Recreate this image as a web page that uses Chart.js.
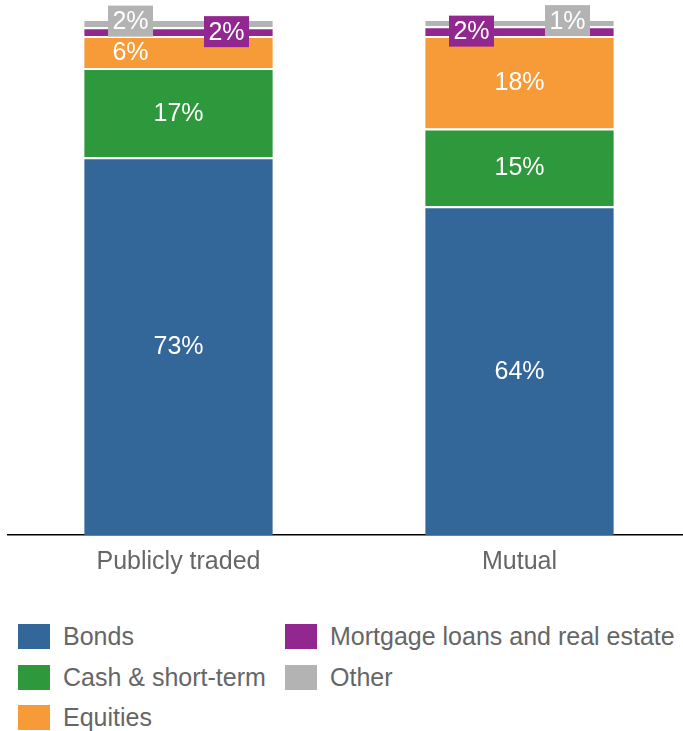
<!DOCTYPE html>
<html>
<head>
<meta charset="utf-8">
<script src="https://cdn.jsdelivr.net/npm/chart.js@4.4.1/dist/chart.umd.min.js"></script>
<style>
  body { margin: 0; background: #fff; overflow: hidden; font-family: "Liberation Sans", Arial, sans-serif; }
  #wrap { position: relative; width: 690px; height: 581px; }
  #legend { position: absolute; left: 18px; top: 623px; width: 680px; }
  .item { position: absolute; display: flex; align-items: center; font-size: 25px; color: #666; white-space: nowrap; height: 26px; }
  .sw { width: 32px; height: 25px; margin-right: 13px; }
</style>
</head>
<body>
<div id="wrap"><canvas id="chart"></canvas></div>
<div id="legend"></div>
<script>
// categorias y valores (%)
var categories = ['Publicly traded', 'Mutual'];
var bonds = [73.2, 63.7];
var cash = [17.3, 15.1];
var equities = [6.2, 17.9];
var mortgage = [1.7, 1.9];
var other = [1.6, 1.4];

var seriesNames = ['Bonds', 'Cash & short-term', 'Equities', 'Mortgage loans and real estate', 'Other'];
var seriesColors = ['#336699', '#2e983d', '#f79a38', '#92278f', '#b3b3b3'];

// desplazamiento horizontal de la etiqueta (-1 izquierda, 0 centro, 1 derecha) y si lleva caja
var labelShift = [[0, 0], [0, 0], [-1, 0], [1, -1], [-1, 1]];
var labelBoxed = [false, false, false, true, true];
var labelLift = [0, 0, 0, 0, -2];

var values = [bonds, cash, equities, mortgage, other];

var datasets = values.map(function(v, i) {
    return {
        label: seriesNames[i],
        data: v,
        backgroundColor: seriesColors[i],
        borderColor: '#ffffff',
        borderWidth: { top: 2, left: 0, right: 0, bottom: 0 },
        borderSkipped: false,
        categoryPercentage: 1,
        barPercentage: 0.553
    };
});

var labelsPlugin = {
    id: 'segLabels',
    afterDatasetsDraw: function(chart) {
        var ctx = chart.ctx;
        ctx.save();
        ctx.font = '25px "Liberation Sans", Arial, sans-serif';
        ctx.textAlign = 'center';
        ctx.textBaseline = 'middle';
        chart.data.datasets.forEach(function(ds, i) {
            var meta = chart.getDatasetMeta(i);
            meta.data.forEach(function(bar, j) {
                var x = bar.x + labelShift[i][j] * 48;
                var y = (bar.y + bar.base) / 2 + labelLift[i];
                var txt = Math.round(ds.data[j]) + '%';
                if (labelBoxed[i]) {
                    var w = 45, h = 31;
                    ctx.fillStyle = ds.backgroundColor;
                    ctx.fillRect(x - w / 2, y - h / 2, w, h);
                }
                ctx.fillStyle = '#ffffff';
                ctx.fillText(txt, x, y + 1);
            });
        });
        ctx.restore();
    }
};

var ctx = document.getElementById('chart').getContext('2d');
var chart = new Chart(ctx, {
    type: 'bar',
    data: { labels: categories, datasets: datasets },
    plugins: [labelsPlugin],
    options: {
        responsive: true,
        maintainAspectRatio: false,
        animation: false,
        layout: { padding: { left: 8, top: 19, right: 0, bottom: 0 } },
        plugins: { legend: { display: false }, tooltip: { enabled: false } },
        scales: {
            x: {
                stacked: true,
                grid: { display: false },
                border: { display: true, color: '#000000', width: 1.5 },
                ticks: { color: '#666666', font: { size: 25, family: '"Liberation Sans", Arial, sans-serif' }, padding: 4 }
            },
            y: {
                stacked: true,
                display: false,
                min: 0,
                max: 100
            }
        }
    }
});

// leyenda en dos columnas
var legend = document.getElementById('legend');
var legendPos = [[0, 0], [0, 41], [0, 81], [267, 0], [267, 41]];
seriesNames.forEach(function(name, i) {
    var d = document.createElement('div');
    d.className = 'item';
    d.style.left = legendPos[i][0] + 'px';
    d.style.top = legendPos[i][1] + 'px';
    d.innerHTML = '<span class="sw" style="background:' + seriesColors[i] + '"></span>' + name;
    legend.appendChild(d);
});
</script>
</body>
</html>
